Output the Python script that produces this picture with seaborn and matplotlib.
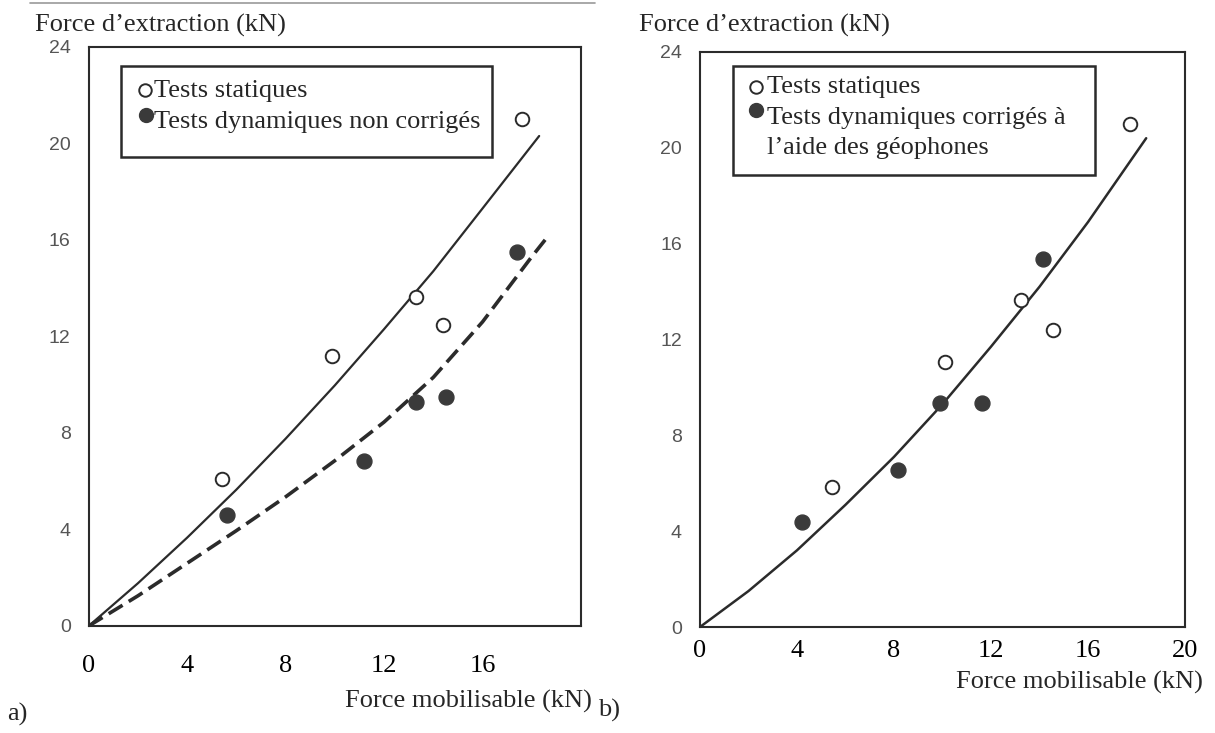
import matplotlib
matplotlib.use("Agg")
import matplotlib.pyplot as plt
from matplotlib.lines import Line2D
from matplotlib.patches import Rectangle
import seaborn as sns

# Values (kN)
# a) static tests / uncorrected dynamic tests
static_a_x = [5.4, 9.9, 13.3, 14.4, 17.6]
static_a_y = [6.1, 11.2, 13.65, 12.45, 21.0]
dyn_a_x = [5.6, 11.2, 13.3, 14.5, 17.4]
dyn_a_y = [4.6, 6.85, 9.3, 9.5, 15.5]
fit_static_a_x = [0, 2, 4, 6, 8, 10, 12, 14, 16, 18.3]
fit_static_a_y = [0, 1.77, 3.66, 5.65, 7.76, 9.97, 12.3, 14.7, 17.3, 20.3]
fit_dyn_a_x = [0, 2, 4, 6, 8, 10, 12, 14, 16, 18, 18.7]
fit_dyn_a_y = [0, 1.25, 2.6, 3.95, 5.35, 6.85, 8.45, 10.3, 12.6, 15.3, 16.2]

# b) static tests / dynamic tests corrected with geophones
static_b_x = [5.45, 10.1, 13.25, 14.55, 17.75]
static_b_y = [5.85, 11.05, 13.65, 12.4, 21.0]
dyn_b_x = [4.2, 8.15, 9.9, 11.65, 14.15]
dyn_b_y = [4.4, 6.55, 9.35, 9.35, 15.35]
fit_b_x = [0, 2, 4, 6, 8, 10, 12, 14, 16, 18.4]
fit_b_y = [0, 1.5, 3.2, 5.1, 7.1, 9.3, 11.7, 14.2, 16.9, 20.4]

x_ticks_a = [0, 4, 8, 12, 16]
x_ticks_b = [0, 4, 8, 12, 16, 20]
y_ticks = [0, 4, 8, 12, 16, 20, 24]

y_title = "Force d\u2019extraction (kN)"
x_title = "Force mobilisable (kN)"
leg_static = "Tests statiques"
leg_dyn_a = "Tests dynamiques non corrigés"
leg_dyn_b = ["Tests dynamiques corrigés à", "l\u2019aide des géophones"]

W, H = 1215, 733
INK = "#2b2b2b"
DOT = "#3a3a3a"

sns.set_theme(style="white")
plt.rcParams["font.family"] = ["Liberation Serif", "DejaVu Serif"]


def fx(x):
    return x / W


def fy(y):
    return 1 - y / H


fig = plt.figure(figsize=(W / 100, H / 100), dpi=100)


def panel(rect, sx, sy, dx, dy, fits, xticks, xpad):
    ax = fig.add_axes(rect)
    for fit_x, fit_y, style, lw in fits:
        sns.lineplot(x=fit_x, y=fit_y, ax=ax, color=INK, linewidth=lw,
                     linestyle=style, sort=False, estimator=None, zorder=2)
    sns.scatterplot(x=sx, y=sy, ax=ax, s=95, color="white", edgecolor=INK,
                    linewidth=1.4, zorder=3)
    sns.scatterplot(x=dx, y=dy, ax=ax, s=115, color=DOT, edgecolor=DOT,
                    linewidth=1.0, zorder=3)
    ax.set_xlim(0, 20)
    ax.set_ylim(0, 24)
    ax.set_xticks(xticks)
    ax.set_yticks(y_ticks)
    ax.set_xticklabels([str(t) for t in xticks])
    ax.set_yticklabels([str(t) for t in y_ticks])
    for sp in ax.spines.values():
        sp.set_visible(True)
        sp.set_color(INK)
        sp.set_linewidth(1.5)
    ax.tick_params(direction="in", length=8.5, width=1.4, color=INK)
    ax.tick_params(axis="x", labelsize=19, labelcolor="black", pad=xpad)
    ax.tick_params(axis="y", labelsize=14, labelcolor="#555555", pad=13)
    for lab in ax.get_yticklabels():
        lab.set_family("Liberation Sans")
    ax.set_xlabel("")
    ax.set_ylabel("")
    return ax


ax_a = panel([0.0730, 0.1460, 0.4052, 0.7903], static_a_x, static_a_y,
             dyn_a_x, dyn_a_y,
             [(fit_static_a_x, fit_static_a_y, "-", 1.6),
              (fit_dyn_a_x, fit_dyn_a_y, (0, (4.5, 2)), 2.6)],
             x_ticks_a, 21)
ax_b = panel([0.5761, 0.1446, 0.3992, 0.7845], static_b_x, static_b_y,
             dyn_b_x, dyn_b_y,
             [(fit_b_x, fit_b_y, "-", 1.8)],
             x_ticks_b, 9)


# hand-made legend boxes like in the scan
def legend_box(x0, y0, x1, y1, mk_open, mk_full, lines):
    fig.add_artist(Rectangle((fx(x0), fy(y1)), (x1 - x0) / W, (y1 - y0) / H,
                             transform=fig.transFigure, fill=False,
                             ec=INK, lw=1.8))
    fig.add_artist(Line2D([fx(mk_open[0])], [fy(mk_open[1])], marker="o",
                          ms=9, mfc="white", mec=INK, mew=1.4,
                          transform=fig.transFigure))
    fig.add_artist(Line2D([fx(mk_full[0])], [fy(mk_full[1])], marker="o",
                          ms=10, mfc=DOT, mec=DOT,
                          transform=fig.transFigure))
    for tx, ty, txt in lines:
        fig.text(fx(tx), fy(ty), txt, ha="left", va="center", fontsize=19)


legend_box(121, 66, 492, 157, (144.5, 90), (146, 115),
           [(154, 91, leg_static), (154, 122, leg_dyn_a)])
legend_box(733, 66, 1095, 175, (756, 87), (756, 110),
           [(767, 87, leg_static), (767, 118, leg_dyn_b[0]),
            (767, 148, leg_dyn_b[1])])

# axis titles and panel letters
fig.text(fx(35), fy(25), y_title, ha="left", va="center", fontsize=19)
fig.text(fx(639), fy(25), y_title, ha="left", va="center", fontsize=19)
fig.text(fx(592), fy(701), x_title, ha="right", va="center", fontsize=19)
fig.text(fx(1203), fy(682), x_title, ha="right", va="center", fontsize=19)
fig.text(fx(7), fy(714), "a)", ha="left", va="center", fontsize=19)
fig.text(fx(598), fy(710), "b)", ha="left", va="center", fontsize=19)

# faint scan border at the top
fig.add_artist(Line2D([fx(30), fx(595)], [fy(3), fy(3)], color="#999999",
                      lw=1.2, transform=fig.transFigure))

fig.savefig("out.png", dpi=100)
